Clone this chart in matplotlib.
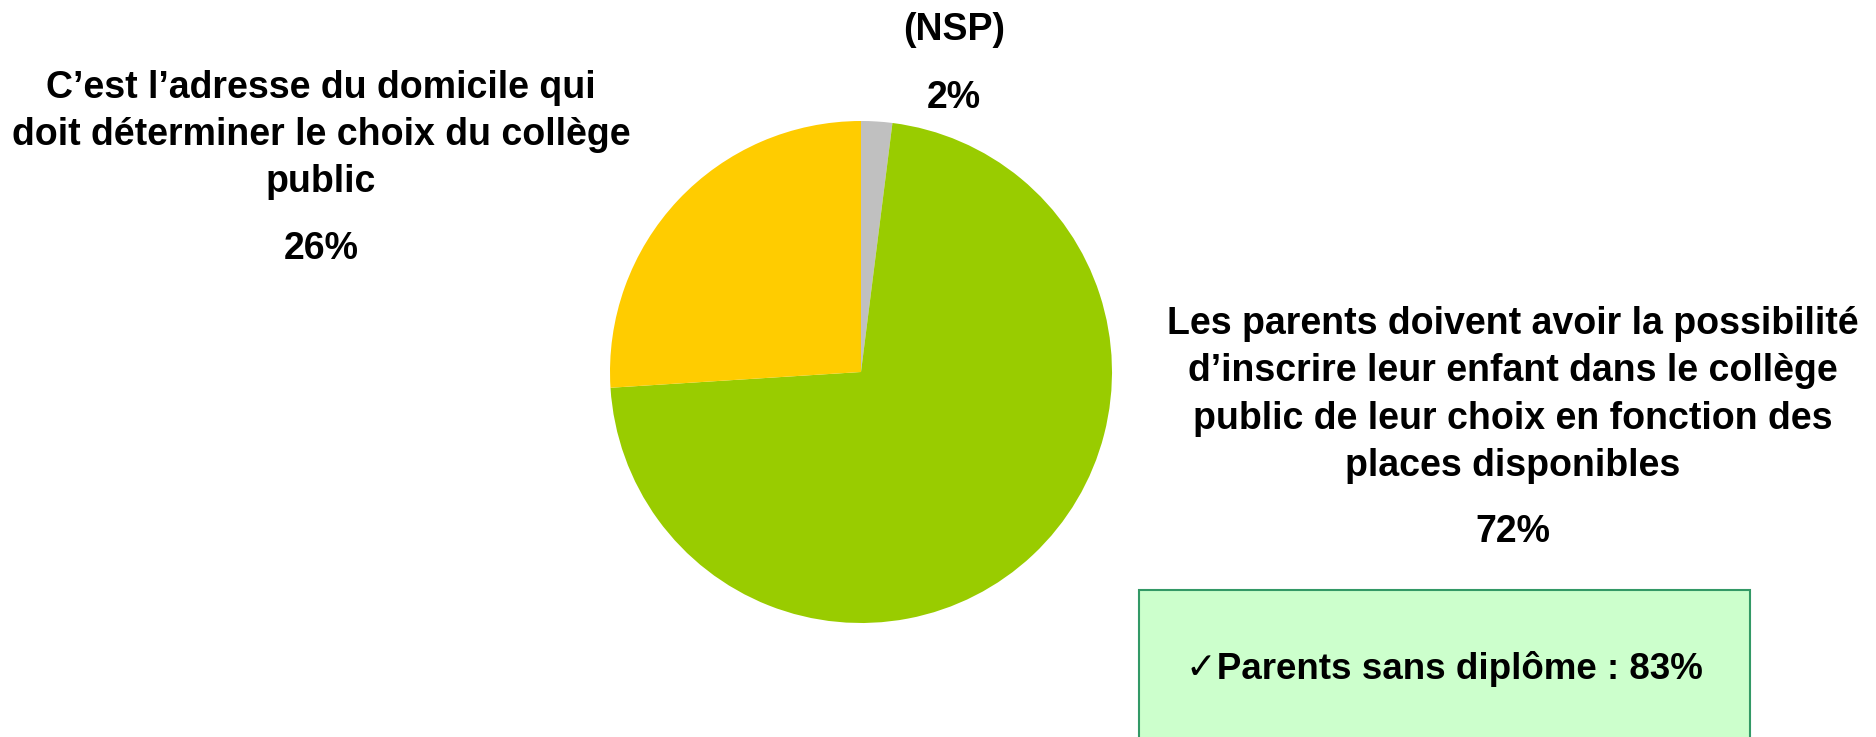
import matplotlib.pyplot as plt
from matplotlib.patches import Rectangle

# answers, clockwise from the top
labels = ['(NSP)',
          "Les parents doivent avoir la possibilité\nd’inscrire leur enfant dans le collège\npublic de leur choix en fonction des\nplaces disponibles",
          "C’est l’adresse du domicile qui\ndoit déterminer le choix du collège\npublic"]
values = [2, 72, 26]
colors = ['#C0C0C0', '#99CC00', '#FFCC00']
highlight = '✓Parents sans diplôme : 83%'

W, H = 1876, 737
fig = plt.figure(figsize=(W / 100, H / 100), dpi=100)
plt.rcParams['font.family'] = ['Liberation Sans', 'DejaVu Sans']

def px(x, y):
    return x / W, 1 - y / H

# pie: center (861, 372), radius 251 px
cx, cy, r = 861, 372, 251
ax = fig.add_axes([(cx - r) / W, (H - cy - r) / H, 2 * r / W, 2 * r / H])
ax.pie(values, colors=colors, startangle=90, counterclock=False, radius=1)
ax.set_xlim(-1, 1)
ax.set_ylim(-1, 1)
ax.set_aspect('equal')
ax.axis('off')

fs = 27
kw = dict(ha='center', va='center', fontsize=fs, fontweight='bold', linespacing=1.4)

fig.text(*px(954, 30), labels[0], **kw)
fig.text(*px(954, 98), f'{values[0]}%', **kw)

fig.text(*px(321, 135), labels[2], **kw)
fig.text(*px(321, 249), f'{values[2]}%', **kw)

fig.text(*px(1513, 395), labels[1], **kw)
fig.text(*px(1513, 532), f'{values[1]}%', **kw)

# highlight box, runs off the bottom edge
x0, y0 = px(1139, 590)
x1, _ = px(1750, 590)
fig.patches.append(Rectangle((x0, -0.1), x1 - x0, y0 + 0.1, transform=fig.transFigure,
                             facecolor='#CCFFCC', edgecolor='#339966', linewidth=1.5,
                             clip_on=False))
fig.text(*px(1444, 669), highlight, ha='center', va='center', fontsize=26.5,
         fontweight='bold')

fig.savefig('out.png', dpi=100)
